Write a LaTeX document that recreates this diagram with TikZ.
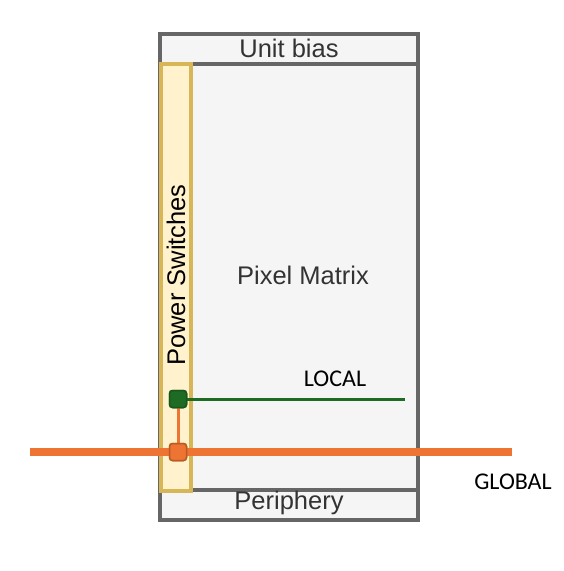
\documentclass[tikz,border=0pt]{standalone}
\usepackage{fontspec}
\setmainfont{Liberation Sans}
\newfontfamily\carlito{Carlito}
\definecolor{grayline}{HTML}{666666}
\definecolor{grayfill}{HTML}{F5F5F5}
\definecolor{yline}{HTML}{D6B656}
\definecolor{yfill}{HTML}{FFF2CC}
\definecolor{gline}{HTML}{1E6B23}
\definecolor{oline}{HTML}{ED7432}
\definecolor{odark}{HTML}{B85A22}
\definecolor{txt}{HTML}{333333}
\tikzset{
  graybox/.style={draw=grayline, fill=grayfill, line width=4pt},
  yellowbox/.style={draw=yline, fill=yfill, line width=4pt},
  lbl/.style={text=txt, font=\fontsize{25.5}{30}\selectfont, inner sep=0pt},
  wire/.style={font=\carlito\fontsize{24}{28}\selectfont, text=black, inner sep=0pt},
  sq/.style={minimum size=17pt, inner sep=0pt, rounded corners=3pt, line width=1.5pt}
}
\begin{document}
\begin{tikzpicture}[x=1pt,y=-1pt]
\useasboundingbox (0,0) rectangle (563,571);
% boxes
\draw[graybox] (160,34) rectangle (418,64);
\draw[graybox] (160,64) rectangle (418,490);
\draw[graybox] (160,490) rectangle (418,520);
\draw[yellowbox] (161,64) rectangle (191,491);
\node[lbl] (ub) at (289,48) {Unit bias};
\node[lbl] (pm) at (303,275) {Pixel Matrix};
\node[lbl] (pe) at (289,503) {Periphery};
\node[lbl, text=black, rotate=90] (ps) at (176,275) {Power Switches};
% wires
\coordinate (gend) at (405,399);
\coordinate (oleft) at (30,452);
\coordinate (oright) at (512,452);
\node[sq, fill=gline, draw=gline!80!black] (gs) at (178,399) {};
\node[sq, fill=oline, draw=odark] (os) at (178,452) {};
\draw[oline, line width=8pt] (oleft) -- (oright);
\draw[oline, line width=3pt] (gs) -- (os);
\draw[gline, line width=3pt] (gs) -- (gend);
\node[sq, fill=gline, draw=gline!80!black] at (gs) {};
\node[sq, fill=oline, draw=odark] at (os) {};
\node[wire] (local) at (335,379) {LOCAL};
\node[wire] (global) at (513,482) {GLOBAL};
\end{tikzpicture}
\end{document}
